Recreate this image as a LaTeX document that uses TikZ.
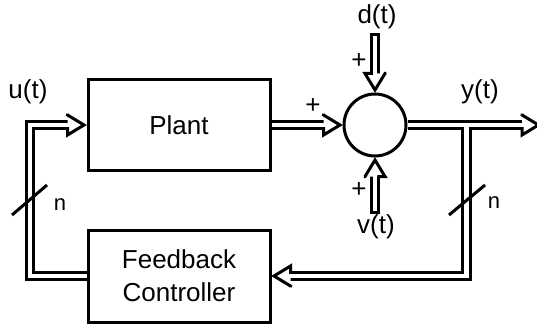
\documentclass[tikz,border=0pt]{standalone}
\usepackage{fontspec}
\setmainfont{Liberation Sans}
\usetikzlibrary{decorations.markings,calc}
\begin{document}
\begin{tikzpicture}[x=1pt,y=-1pt,
  font=\fontsize{26}{33}\selectfont,
  box/.style={draw,line width=3pt,minimum width=182pt,minimum height=90pt,align=center,inner sep=0pt},
  sumnode/.style={draw,circle,line width=3pt,minimum size=62pt,inner sep=0pt},
  lbl/.style={inner sep=0pt},
  small/.style={inner sep=0pt,font=\fontsize{22}{24}\selectfont},
  dbl/.style={draw,line width=3pt,double=white,double distance=4.5pt,line join=miter,shorten >=9pt},
  arrowtip/.style={postaction={decorate,decoration={markings,mark=at position 1 with {
      \fill[white] (-19pt,-10pt) -- (-2.5pt,0pt) -- (-19pt,10pt) -- cycle;
      \draw[black,line width=3pt,line join=miter] (-19pt,-2.25pt) -- (-19pt,-10pt) -- (-2.5pt,0pt) -- (-19pt,10pt) -- (-19pt,2.25pt);
  }}}},
  startbar/.style={postaction={decorate,decoration={markings,mark=at position 0 with {
      \fill[black] (0pt,-5.25pt) rectangle (3pt,5.25pt);
  }}}},
  slash/.style={draw,line width=3pt}
]
\useasboundingbox (0,0) rectangle (537,331);

\node[box] (plant) at (179,125) {Plant};
\node[box,minimum height=92pt] (fb) at (179,276) {Feedback\\Controller};
\node[sumnode] (sum) at (375,125) {};

\node[lbl] (ulab) at (28,92) {u(t)};
\node[lbl] (ylab) at (480,92) {y(t)};
\node[lbl] (dlab) at (377,17) {d(t)};
\node[lbl] (vlab) at (376,227) {v(t)};
\node[lbl] (p1) at (313,106) {+};
\node[lbl] (p2) at (359,61) {+};
\node[lbl] (p3) at (359,190) {+};
\node[small] (n1) at (60,205) {n};
\node[small] (n2) at (494,203) {n};

\coordinate (dtop) at (375,33);
\coordinate (vbot) at (375,214);
\coordinate (jn) at (466.5,125);
\coordinate (yend) at (541,125);

\draw[dbl,arrowtip] (fb.west) -- ++(-56.5,0) |- (plant.west);
\draw[dbl,arrowtip] (plant.east) -- (sum.west);
\draw[dbl,arrowtip,startbar] (dtop) -- (sum.north);
\draw[dbl,arrowtip,startbar] (vbot) -- (sum.south);
\draw[dbl,arrowtip] (jn) |- (fb.east);
\draw[dbl,arrowtip] (sum.east) -- (yend);
\draw[white,line width=4.5pt] (jn) -- ++(0,12);

\coordinate (s1a) at (12,215);
\coordinate (s1b) at (47,185);
\coordinate (s2a) at (449,215);
\coordinate (s2b) at (485,185);
\draw[slash] (s1a) -- (s1b);
\draw[slash] (s2a) -- (s2b);
\end{tikzpicture}
\end{document}
